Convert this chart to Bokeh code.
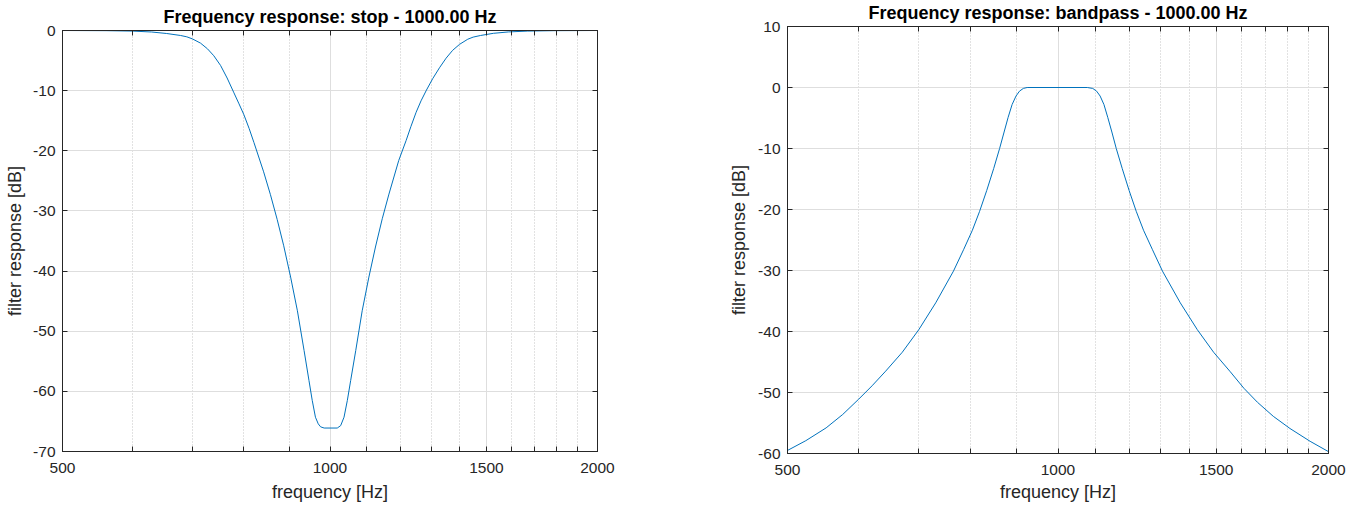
from bokeh.plotting import figure
from bokeh.layouts import row
from bokeh.models import Range1d, FixedTicker, LinearAxis, LogAxis, BasicTickFormatter
from bokeh.embed import file_html
from bokeh.resources import INLINE

# ---- data ----
stop_freq = [500, 560, 600, 630, 655, 679, 690, 700, 715, 728,
             740, 753, 766, 779, 790, 800, 811, 821, 842, 857,
             872, 887, 903, 919, 935, 947, 955, 963, 970, 976,
             985, 1000, 1019, 1028, 1037, 1046, 1055, 1069, 1087, 1106,
             1125, 1145, 1165, 1195, 1218, 1233, 1250, 1266, 1284, 1305,
             1328, 1351, 1374, 1399, 1429, 1449, 1477, 1527, 1587, 1667,
             1786, 2000]
stop_db = [0, -0.03, -0.1, -0.25, -0.5, -0.83, -1.05, -1.39, -2.1, -3.05,
           -4.2, -5.8, -7.9, -10.25, -12.2, -14.0, -16.3, -18.6, -23.5, -27.3,
           -31.4, -35.8, -41.0, -46.6, -53.2, -58.2, -61.5, -64.3, -65.4, -65.9,
           -66.1, -66.1, -66.1, -65.7, -64.3, -61.5, -58.2, -53.2, -46.6, -41.0,
           -36.0, -31.3, -27.2, -21.6, -18.3, -16.0, -13.6, -11.7, -9.9, -8.0,
           -6.2, -4.6, -3.3, -2.3, -1.45, -1.1, -0.83, -0.47, -0.24, -0.1,
           -0.03, 0]

bp_freq = [500, 524, 552, 576, 600, 621, 643, 671, 700, 731,
           765, 785, 803, 818, 833, 848, 861, 871, 880, 889,
           898, 906, 915, 924, 1000, 1078, 1093, 1104, 1114, 1125,
           1136, 1148, 1161, 1179, 1200, 1222, 1245, 1274, 1307, 1368,
           1429, 1490, 1555, 1610, 1667, 1736, 1812, 1908, 2000]
bp_db = [-59.5, -57.9, -55.8, -53.6, -51.1, -48.9, -46.5, -43.4, -39.7, -35.3,
         -30.1, -26.6, -23.4, -20.3, -16.9, -13.3, -10.0, -7.3, -4.9, -2.8,
         -1.4, -0.6, -0.15, 0, 0, 0, -0.15, -0.6, -1.4, -2.8,
         -4.9, -7.3, -10.0, -13.3, -16.9, -20.3, -23.4, -26.6, -30.1, -35.3,
         -39.7, -43.4, -46.6, -49.3, -51.6, -53.9, -55.9, -58.0, -59.7]

x_major = [500, 1000, 1500, 2000]
x_minor = [600, 700, 800, 900, 1100, 1200, 1300, 1400, 1600, 1700, 1800, 1900]
x_labels = ["500", "1000", "1500", "2000"]

stop_yticks = [-70, -60, -50, -40, -30, -20, -10, 0]
stop_ylabels = ["-70", "-60", "-50", "-40", "-30", "-20", "-10", "0"]
bp_yticks = [-60, -50, -40, -30, -20, -10, 0, 10]
bp_ylabels = ["-60", "-50", "-40", "-30", "-20", "-10", "0", "10"]

titles = ["Frequency response: stop - 1000.00 Hz",
          "Frequency response: bandpass - 1000.00 Hz"]
xlabel = "frequency [Hz]"
ylabel = "filter response [dB]"

FONT = "Liberation Sans"
AX = "#262626"
LINE = "#0072BD"


def make(title, freq, db, yrange, yticks, ylabels, width, height,
         bl, br, bt, bb, ylab_standoff, xtick_standoff, xlab_standoff,
         title_standoff, margin):
    p = figure(width=width, height=height, x_axis_type="log",
               x_range=Range1d(500, 2000), y_range=Range1d(*yrange),
               output_backend="svg", toolbar_location=None,
               min_border_left=bl, min_border_right=br,
               min_border_top=bt, min_border_bottom=bb,
               background_fill_color="white", border_fill_color="white",
               outline_line_color=AX, outline_line_width=1,
               margin=margin)
    p.frame_align = False
    p.title.text = title
    p.title.text_font = FONT
    p.title.text_font_size = "18px"
    p.title.text_font_style = "bold"
    p.title.text_color = "#000000"
    p.title.align = "center"
    p.title.standoff = title_standoff
    p.title.offset = 0

    xt = FixedTicker(ticks=x_major, minor_ticks=x_minor)
    yt = FixedTicker(ticks=yticks, minor_ticks=[])
    xover = {v: s for v, s in zip(x_major, x_labels)}
    yover = {v: s for v, s in zip(yticks, ylabels)}

    xa = p.xaxis[0]
    xa.ticker = xt
    xa.formatter = BasicTickFormatter(use_scientific=False)
    xa.major_label_overrides = xover
    xa.axis_label = xlabel
    ya = p.yaxis[0]
    ya.ticker = yt
    ya.major_label_overrides = yover
    ya.axis_label = ylabel

    for ax in (xa, ya):
        ax.axis_line_color = AX
        ax.major_tick_line_color = AX
        ax.minor_tick_line_color = AX
        ax.major_tick_in = 5
        ax.major_tick_out = 0
        ax.minor_tick_in = 5
        ax.minor_tick_out = 0
        ax.major_label_text_font = FONT
        ax.major_label_text_font_size = "15.5px"
        ax.major_label_text_color = AX
        ax.axis_label_text_font = FONT
        ax.axis_label_text_font_size = "18px"
        ax.axis_label_text_font_style = "normal"
        ax.axis_label_text_color = AX
    ya.minor_tick_line_color = None
    xa.major_label_standoff = xtick_standoff
    xa.axis_label_standoff = xlab_standoff
    ya.major_label_standoff = 7
    ya.axis_label_standoff = ylab_standoff

    # mirrored axes (box on)
    top = LogAxis(ticker=xt)
    right = LinearAxis(ticker=yt)
    for ax in (top, right):
        ax.axis_line_color = AX
        ax.major_tick_line_color = AX
        ax.minor_tick_line_color = AX
        ax.major_tick_in = 5
        ax.major_tick_out = 0
        ax.minor_tick_in = 5
        ax.minor_tick_out = 0
        ax.major_label_text_font_size = "0px"
        ax.major_label_standoff = 0
        ax.major_label_text_alpha = 0
    right.minor_tick_line_color = None
    p.add_layout(top, "above")
    p.add_layout(right, "right")

    p.xgrid.ticker = xt
    p.xgrid.grid_line_color = "#dedede"
    p.xgrid.grid_line_width = 1
    p.xgrid.minor_grid_line_color = "#c4c4c4"
    p.xgrid.minor_grid_line_dash = "1 2"
    p.xgrid.minor_grid_line_width = 1
    p.ygrid.ticker = yt
    p.ygrid.grid_line_color = "#dedede"
    p.ygrid.grid_line_width = 1

    p.line(freq, db, line_color=LINE, line_width=1)
    return p


p1 = make(titles[0], stop_freq, stop_db, (-70, 0), stop_yticks, stop_ylabels,
          width=700, height=507, bl=62, br=103, bt=30, bb=56,
          ylab_standoff=5, xtick_standoff=11, xlab_standoff=6,
          title_standoff=7, margin=(0, 0, 0, 0))
p2 = make(titles[1], bp_freq, bp_db, (-60, 10), bp_yticks, bp_ylabels,
          width=655, height=511, bl=87, br=27, bt=30, bb=54,
          ylab_standoff=6, xtick_standoff=11, xlab_standoff=4,
          title_standoff=7, margin=(-4, 0, 0, 0))

layout = row(p1, p2, spacing=0)
open("out.html", "w").write(file_html(layout, INLINE))
